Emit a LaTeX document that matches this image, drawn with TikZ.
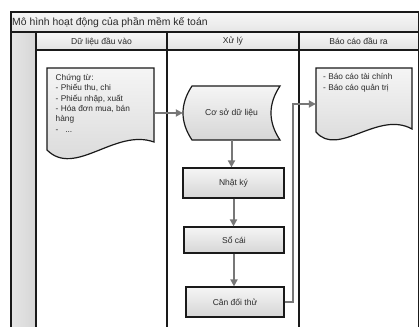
\documentclass[tikz,border=0pt]{standalone}
\usepackage{fontspec}
\setmainfont{Liberation Sans}
\usetikzlibrary{arrows.meta}
\definecolor{txt}{HTML}{2A2A2A}
\definecolor{arrgray}{HTML}{777777}
\definecolor{edge}{HTML}{1A1A1A}
\tikzset{
  shapefill/.style={top color=gray!8, bottom color=gray!32, draw=edge, line width=1.2pt},
  procbox/.style={rectangle, draw=edge, line width=1.2pt, top color=gray!8, bottom color=gray!32,
    text=txt, font=\fontsize{8.5}{10}\selectfont, inner sep=0pt},
  lbl/.style={text=txt, font=\fontsize{8.3}{10.4}\selectfont, align=left, inner sep=0pt},
  hdr/.style={text=txt, font=\fontsize{8.6}{10}\selectfont, inner sep=0pt},
  hitbox/.style={rectangle, draw=none, inner sep=0pt},
  arr/.style={draw=arrgray, line width=2pt, -{Triangle[length=7pt,width=7pt]}},
  lane/.style={draw=edge, line width=1.3pt}
}
\begin{document}
\begin{tikzpicture}[x=1pt,y=-1pt]
\useasboundingbox (0,0) rectangle (419,326);
\clip (0,0) rectangle (419,326);
% white background
\fill[white] (0,0) rectangle (419,326);
% title bar
\shade[top color=gray!6, bottom color=gray!20] (11,12) rectangle (419,32);
% header cells
\shade[top color=gray!6, bottom color=gray!22] (36,32) rectangle (418.5,50);
% left margin column
\shade[left color=gray!20, right color=gray!32] (11,32) rectangle (36,340);
% lane lines
\draw[lane, line width=1.8pt] (11,340) -- (11,12) -- (425,12);
\draw[lane] (11,32) -- (425,32);
\draw[lane] (36,50) -- (418.5,50);
\draw[lane] (36,32) -- (36,340);
\draw[lane] (167,32) -- (167,340);
\draw[lane] (299,32) -- (299,340);
\draw[lane] (418.5,12) -- (418.5,340);

% title and headers
\node[hdr, anchor=west, font=\fontsize{10.4}{12}\selectfont] (title) at (12,22.5) {Mô hình hoạt động của phần mềm kế toán};
\node[hdr] (h1) at (101.5,41.5) {Dữ liệu đầu vào};
\node[hdr] (h2) at (233,41.5) {Xử lý};
\node[hdr] (h3) at (358.5,41.5) {Báo cáo đầu ra};

% document 1 shape
\path[shapefill] (47,68) -- (154,68) -- (154,142)
  .. controls (115,128) and (75,178) .. (47,150) -- cycle;
\node[hitbox, minimum width=107pt, minimum height=90pt] (doc1) at (100.5,113) {};
\node[lbl, anchor=north west] (doc1text) at (55.5,74)
  {Chứng từ:\\- Phiếu thu, chi\\- Phiếu nhập, xuất\\- Hóa đơn mua, bán\\hàng\\-\ \ \ ...};

% database shape
\path[shapefill] (192,86) -- (280,86) .. controls (268,104) and (268,122) .. (280,140)
  -- (192,140) .. controls (180,122) and (180,104) .. (192,86) -- cycle;
\node[hitbox, minimum width=97pt, minimum height=54pt, text=txt, font=\fontsize{8.6}{10}\selectfont] (db) at (231.5,113) {Cơ sở dữ liệu};

% document 2 shape
\path[shapefill] (316,68) -- (412,68) -- (412,129)
  .. controls (378,110) and (338,158) .. (316,132) -- cycle;
\node[hitbox, minimum width=96pt, minimum height=72pt] (doc2) at (364,104) {};
\node[lbl, anchor=north west, font=\fontsize{8.3}{11}\selectfont] (doc2text) at (323,73.5)
  {- Báo cáo tài chính\\- Báo cáo quản trị};

% process boxes
\node[procbox, minimum width=101pt, minimum height=30pt] (nk) at (233.5,183) {Nhật ký};
\node[procbox, minimum width=100pt, minimum height=26pt] (sc) at (234,240) {Sổ cái};
\node[procbox, minimum width=98pt, minimum height=30pt] (cdt) at (235,302) {Cân đối thử};

% connectors
\draw[arr] (doc1.east) -- (db.west);
\draw[arr] (db.south) -- (db.south |- nk.north);
\draw[arr] (nk.south) -- (nk.south |- sc.north);
\draw[arr] (sc.south) -- (sc.south |- cdt.north);
\draw[arr] (cdt.east) -- ++(8,0) |- (doc2.west);
\end{tikzpicture}
\end{document}
